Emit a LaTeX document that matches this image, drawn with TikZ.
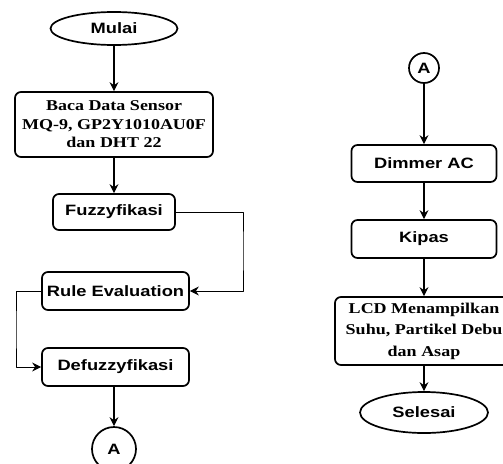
\documentclass[tikz,border=0pt]{standalone}
\usepackage{fontspec}
\setmainfont{Liberation Serif}[FakeStretch=1.2]
\newfontfamily\arialb{Liberation Sans}[FakeStretch=1.22]
\usetikzlibrary{arrows.meta,shapes.geometric}

\begin{document}
\begin{tikzpicture}[x=1pt,y=-1pt,>={Stealth[length=9pt,width=9pt,inset=3pt]},line cap=round,line join=round,
		proses/.style={draw,line width=1.7pt,rounded corners=6pt,align=center,inner sep=0pt,font=\arialb\bfseries\fontsize{15}{18}\selectfont},
		teks/.style={proses,font=\bfseries\fontsize{15}{18.5}\selectfont},
		terminal/.style={proses,ellipse},
		panah/.style={->,line width=1.2pt},
		loop/.style={->,line width=0.8pt}]
	\useasboundingbox (0,0) rectangle (503,463);
	% kolom kiri
	\node[terminal,minimum width=127,minimum height=33] (mulai) at (114,28.5) {Mulai};
	\node[teks,minimum width=198,minimum height=65] (baca) at (114,124.5) {Baca Data Sensor\\MQ-9, GP2Y1010AU0F\\dan DHT 22};
	\node[proses,minimum width=122,minimum height=36] (fuzzy) at (114,212) {Fuzzyfikasi};
	\node[proses,minimum width=147,minimum height=38] (rule) at (115.5,291) {Rule Evaluation};
	\node[proses,minimum width=147,minimum height=38] (defuzzy) at (115.5,367) {Defuzzyfikasi};
	\node[terminal,circle,minimum size=44] (konA) at (114,449) {A};
	\coordinate (kanan) at (243,250);
	\coordinate (kiri) at (16,330);
	\draw[panah] (mulai) -- (baca);
	\draw[panah] (baca) -- (fuzzy);
	\draw[loop] (fuzzy.east) -| (kanan) |- (rule.east);
	\draw[loop] (rule.west) -| (kiri) |- (defuzzy.west);
	\draw[panah] (114,386) -- (konA);
	% kolom kanan
	\node[terminal,circle,minimum size=30] (konB) at (424,68) {A};
	\node[proses,minimum width=145,minimum height=37] (dimmer) at (424,163.5) {Dimmer AC};
	\node[proses,minimum width=145,minimum height=38] (kipas) at (424,239) {Kipas};
	\node[teks,minimum width=178,minimum height=68,font=\bfseries\fontsize{15}{21.5}\selectfont] (lcd) at (424,331) {LCD Menampilkan\\Suhu, Partikel Debu\\dan Asap};
	\node[terminal,minimum width=128,minimum height=41] (selesai) at (424,412.5) {Selesai};
	\draw[panah] (konB) -- (dimmer);
	\draw[panah] (dimmer) -- (kipas);
	\draw[panah] (kipas) -- (lcd);
	\draw[panah] (lcd) -- (selesai);
\end{tikzpicture}
\end{document}
